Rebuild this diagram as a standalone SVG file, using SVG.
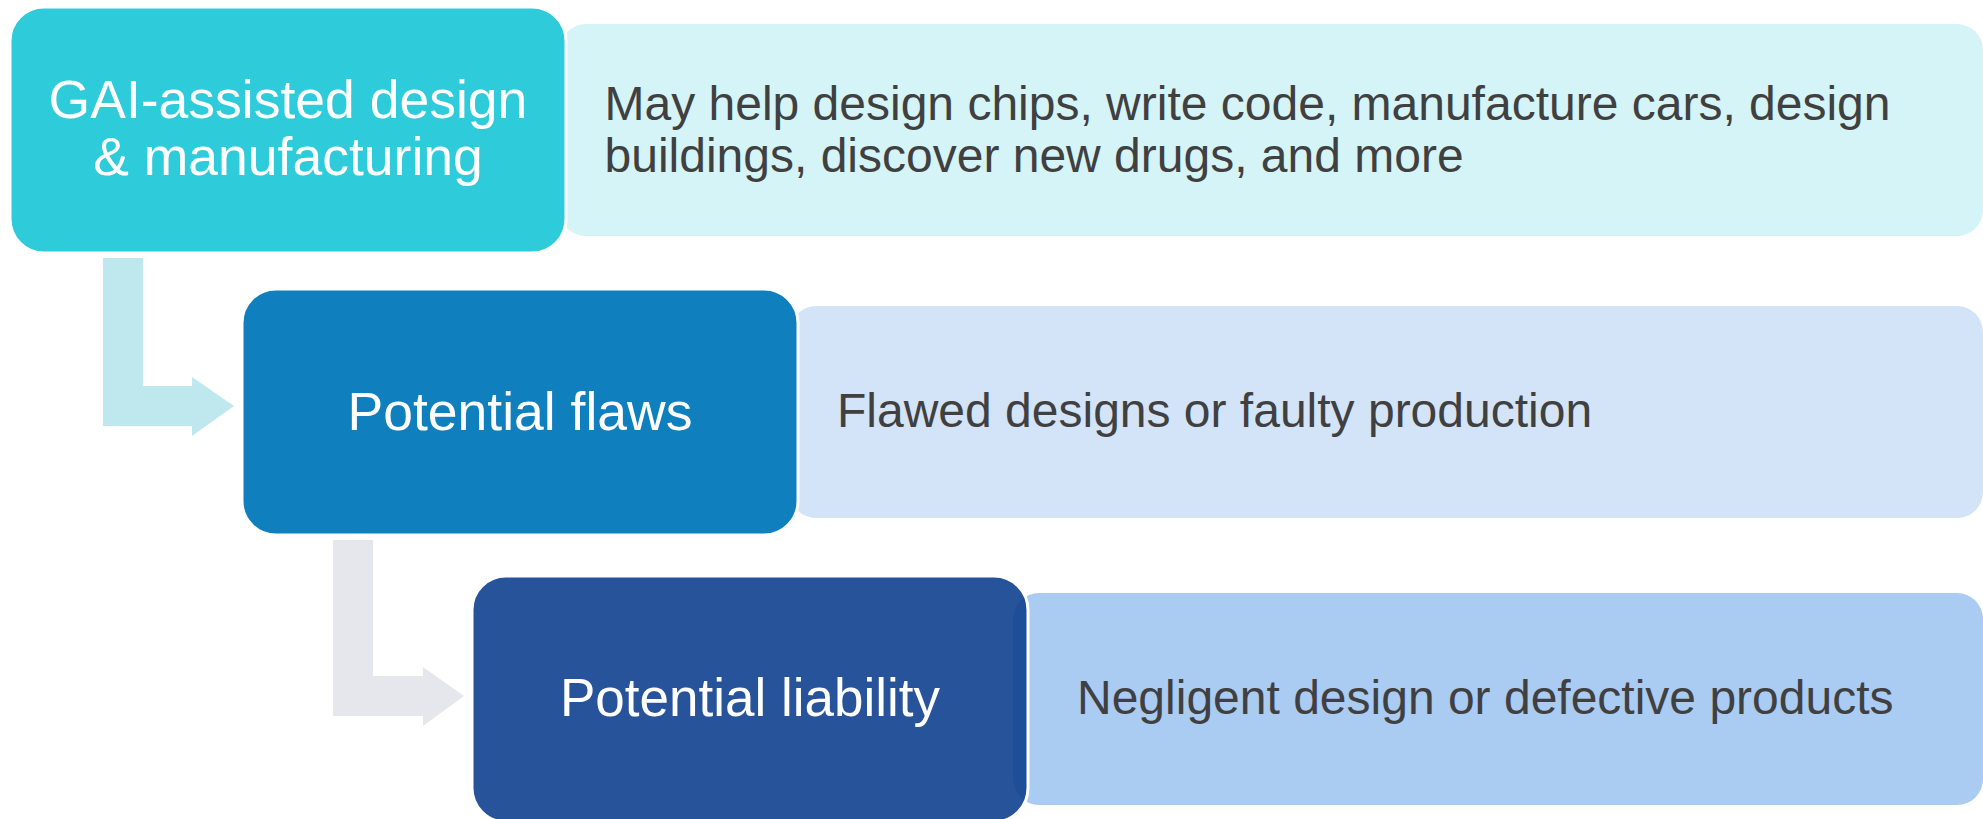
<svg xmlns="http://www.w3.org/2000/svg" width="1983" height="819" viewBox="0 0 1983 819">
<style>
.main{stroke:#ffffff;stroke-width:3}
.desc{stroke:none}
.mt{font-family:"Liberation Sans",Arial,sans-serif;font-size:53.5px;fill:#ffffff;text-anchor:middle}
.dt{font-family:"Liberation Sans",Arial,sans-serif;font-size:48px;fill:#404040}
</style>
<rect width="1983" height="819" fill="#ffffff"/>
<g id="connectors">
<path d="M103,258 H143 V386 H192 V377 L234,406 L192,436 V426 H103 Z" fill="#BFE8EE"/>
<path d="M333,540 H373 V676 H423 V667 L464,696 L423,726 V716 H333 Z" fill="#E6E7EC"/>
</g>
<g id="desc1">
<rect class="desc" x="560" y="24" width="1423" height="212" rx="26" fill="#D5F4F7"/>
<text class="dt" x="604.5" y="120">May help design chips, write code, manufacture cars, design</text>
<text class="dt" x="604.5" y="172">buildings, discover new drugs, and more</text>
</g>
<g id="node1">
<rect class="main" x="10" y="7" width="556" height="246" rx="34" fill="#2ECBDA"/>
<text class="mt" x="288" y="117.5">GAI-assisted design</text>
<text class="mt" x="288" y="175">&amp; manufacturing</text>
</g>
<g id="desc2">
<rect class="desc" x="790" y="306" width="1193" height="212" rx="26" fill="#D3E4F8"/>
<text class="dt" x="837" y="427">Flawed designs or faulty production</text>
</g>
<g id="node2">
<rect class="main" x="242" y="289" width="556" height="246" rx="34" fill="#0F7FBD"/>
<text class="mt" x="520" y="430">Potential flaws</text>
</g>
<g id="desc3">
<rect class="desc" x="1013" y="593" width="970" height="212" rx="26" fill="#AACBF2"/>
<text class="dt" x="1077" y="713.5">Negligent design or defective products</text>
</g>
<g id="node3">
<rect class="main" x="472" y="576" width="556" height="246" rx="34" fill="#10408F" fill-opacity="0.9"/>
<text class="mt" x="750" y="716" style="font-size:53px">Potential liability</text>
</g>
</svg>
